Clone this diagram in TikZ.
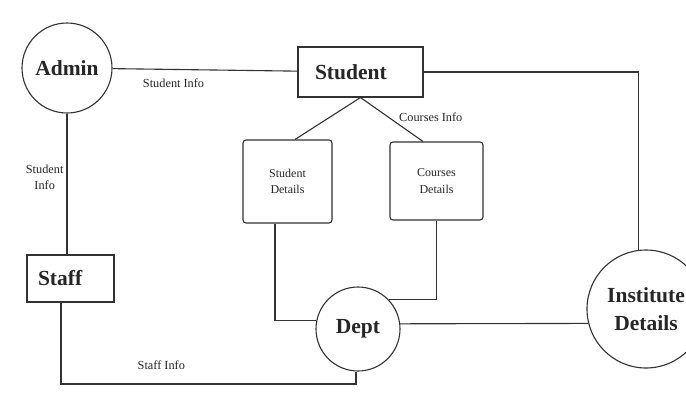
\documentclass[tikz,border=0pt]{standalone}
\usepackage{fontspec}
\setmainfont{Liberation Serif}
\usepackage{tikz}
\usetikzlibrary{positioning}
\definecolor{inkgray}{RGB}{50,50,50}
\tikzstyle{entity}=[rectangle,draw=inkgray,line width=1.1pt,font=\fontsize{21.5}{23}\selectfont\bfseries]
\tikzstyle{process}=[circle,draw=inkgray,line width=1.1pt,inner sep=0pt,align=center,font=\fontsize{21.5}{28}\selectfont\bfseries]
\tikzstyle{store}=[rectangle,rounded corners=3pt,draw=inkgray,line width=1.1pt,align=center,font=\fontsize{12}{16.5}\selectfont]
\tikzstyle{flow}=[font=\fontsize{12.3}{16}\selectfont,align=center,inner sep=2pt]

\begin{document}
\begin{tikzpicture}[x=1pt,y=-1pt,line width=1.1pt,draw=inkgray,text=black!85]
     \useasboundingbox[fill=white] (0,0) rectangle (686,400);
     % nodes
     \node (Adm) [process,minimum size=90pt] at (67,68) {Admin};
     \node (Stu) [entity,text width=91pt,inner xsep=17pt,minimum height=50pt,align=left] at (360.5,72) {Student};
     \node (StuDet) [store,minimum width=89pt,minimum height=83pt] at (287.5,181.5) {Student\\Details};
     \node (CouDet) [store,minimum width=93pt,minimum height=78pt] at (436.5,181) {Courses\\Details};
     \node (Stf) [entity,text width=65pt,inner xsep=11pt,minimum height=47pt,align=left] at (70.5,278.5) {Staff};
     \node (Dept) [process,minimum size=84pt] at (358,329) {Dept};
     \node (Inst) [process,minimum size=118pt] at (646,309) {Institute\\Details};
     \coordinate (StfTurn) at (356,384);
     % flows
     \draw (Adm) -- node[flow,below=7pt,pos=.33] {Student Info} (Stu);
     \draw (Stu.south) -- ([xshift=7.5pt]StuDet.north);
     \draw (Stu.south) -- node[flow,right=8pt,pos=.45] {Courses Info} ([xshift=-13.5pt]CouDet.north);
     \draw (Stu.east) -| (Inst.97);
     \draw ([xshift=-12.5pt]StuDet.south) |- (Dept.168);
     \draw (CouDet.south) |- (Dept.44);
     \draw (Dept.7) -- (Inst.194);
     \draw (Adm.south) -- node[flow,left=1pt,pos=.45] {Student\\Info} (Adm.south |- Stf.north);
     \draw ([xshift=-9.5pt]Stf.south) |- node[flow,above=12pt,pos=.67] {Staff Info} (StfTurn) -- ([xshift=-2pt]Dept.south);
\end{tikzpicture}
\end{document}
